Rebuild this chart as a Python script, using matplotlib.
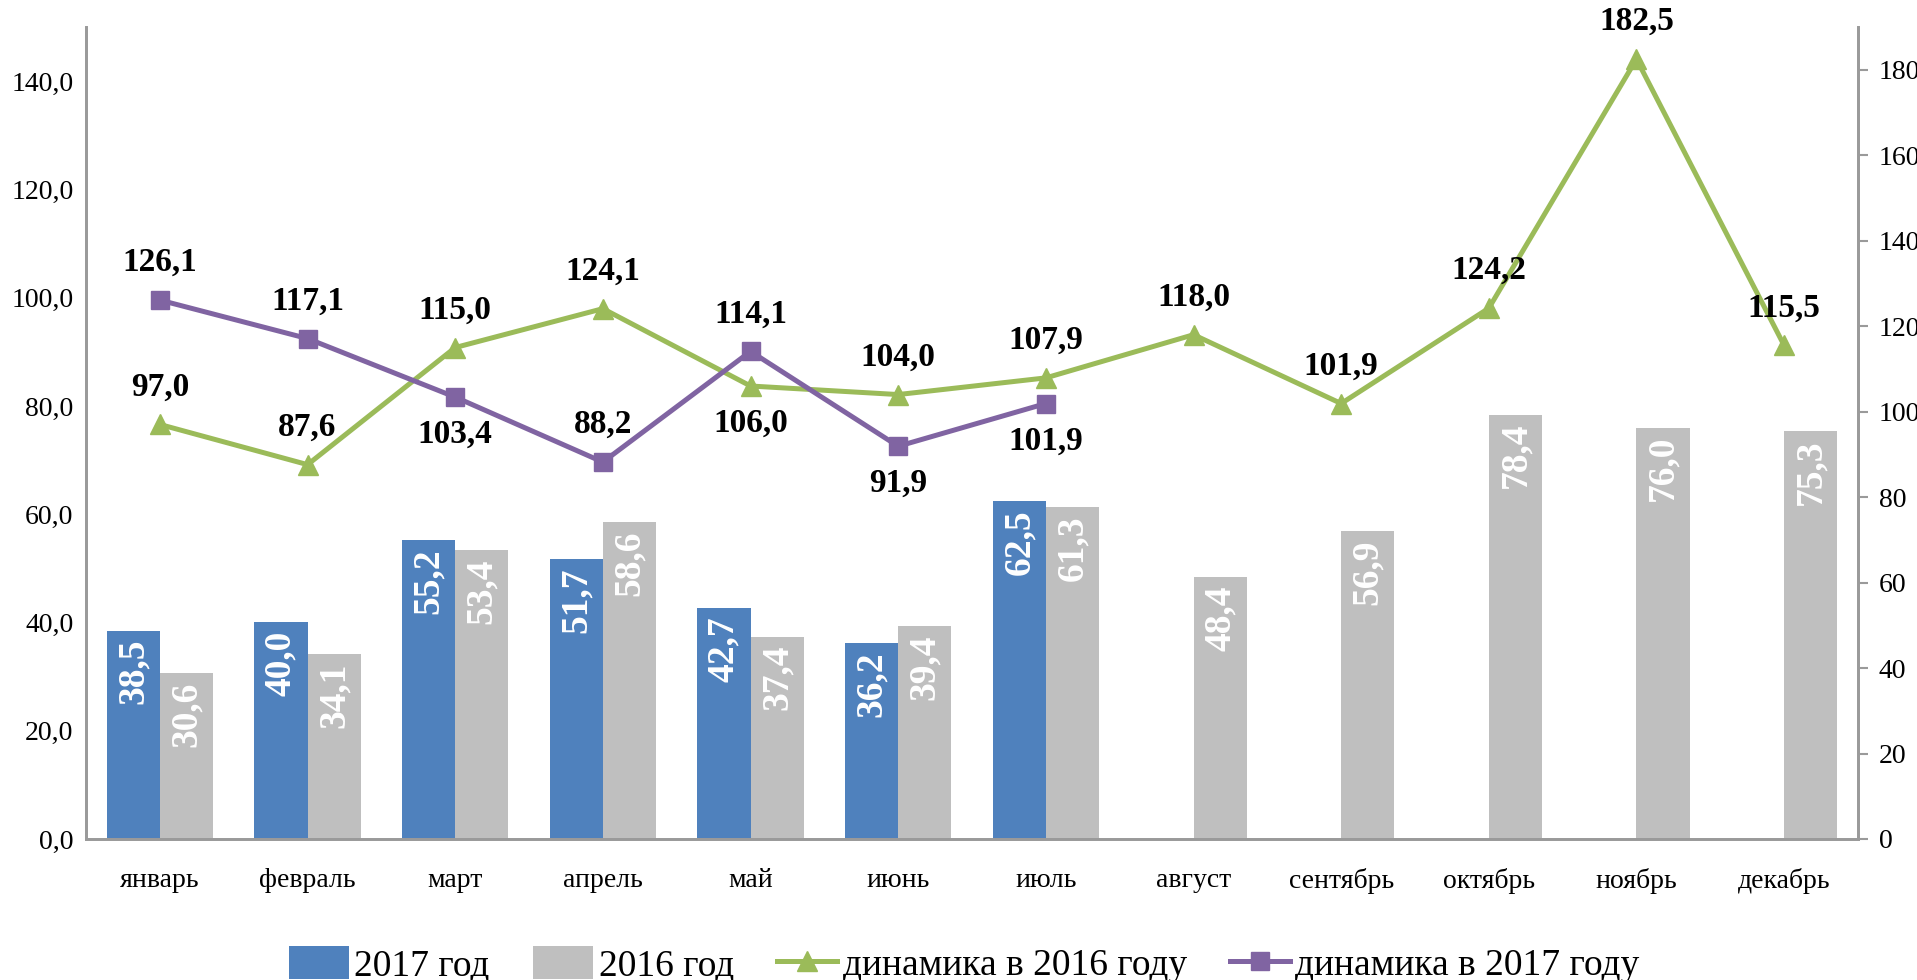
import matplotlib
matplotlib.use('Agg')
import matplotlib.pyplot as plt
from matplotlib.ticker import FuncFormatter, MultipleLocator

months = ['январь', 'февраль', 'март', 'апрель', 'май', 'июнь',
          'июль', 'август', 'сентябрь', 'октябрь', 'ноябрь', 'декабрь']
bars_2017 = [38.5, 40.0, 55.2, 51.7, 42.7, 36.2, 62.5]
bars_2016 = [30.6, 34.1, 53.4, 58.6, 37.4, 39.4, 61.3, 48.4, 56.9, 78.4, 76.0, 75.3]
dyn_2016 = [97.0, 87.6, 115.0, 124.1, 106.0, 104.0, 107.9, 118.0, 101.9, 124.2, 182.5, 115.5]
dyn_2017 = [126.1, 117.1, 103.4, 88.2, 114.1, 91.9, 101.9]
# label above (+1) or below (-1) the point
pos_2016 = [1, 1, 1, 1, -1, 1, 1, 1, 1, 1, 1, 1]
pos_2017 = [1, 1, -1, 1, 1, -1, -1]

blue = '#4F81BD'
grey = '#BFBFBF'
green = '#9BBB59'
purple = '#8064A2'
axis_grey = '#9A9A9A'
serif = 'Liberation Serif'

plt.rcParams['font.family'] = serif

fig = plt.figure(figsize=(19.17, 9.8), dpi=100, facecolor='white')
ax = fig.add_axes([0.0449, 0.1439, 0.9243, 0.8285])
ax2 = ax.twinx()

w = 0.36
x_all = list(range(len(months)))
x17 = [i - w / 2 for i in range(len(bars_2017))]
x16 = [i + w / 2 for i in x_all]

b17 = ax.bar(x17, bars_2017, width=w, color=blue, label='2017 год', zorder=2)
b16 = ax.bar(x16, bars_2016, width=w, color=grey, label='2016 год', zorder=2)

for xs, vals in ((x17, bars_2017), (x16, bars_2016)):
    for xv, v in zip(xs, vals):
        ax.annotate(f'{v:.1f}'.replace('.', ','), (xv, v), xytext=(0, -6),
                    textcoords='offset points', rotation=90, ha='center', va='top',
                    color='white', fontsize=27, fontweight='bold', zorder=3)

ax.set_xlim(-0.5, 11.5)
ax.set_ylim(0, 150)
ax.yaxis.set_major_locator(MultipleLocator(20))
ax.yaxis.set_major_formatter(FuncFormatter(lambda v, p: f'{v:.1f}'.replace('.', ',')))
ax.set_xticks(x_all)
ax.set_xticklabels(months)
ax.tick_params(axis='x', length=0, pad=21, labelsize=20)
ax.tick_params(axis='y', length=0, pad=9, labelsize=20)

l16, = ax2.plot(x_all, dyn_2016, color=green, linewidth=3.6, marker='^',
                markersize=15, label='динамика в 2016 году', zorder=4)
l17, = ax2.plot(list(range(len(dyn_2017))), dyn_2017, color=purple, linewidth=3.6,
                marker='s', markersize=13, label='динамика в 2017 году', zorder=4)

for xs, vals, pos in ((x_all, dyn_2016, pos_2016), (range(len(dyn_2017)), dyn_2017, pos_2017)):
    for xv, v, p in zip(xs, vals, pos):
        ax2.annotate(f'{v:.1f}'.replace('.', ','), (xv, v), xytext=(0, 27 * p),
                     textcoords='offset points', ha='center', va='center',
                     fontsize=24, fontweight='bold', color='black', zorder=5)

ax2.set_ylim(0, 190)
ax2.yaxis.set_major_locator(MultipleLocator(20))
ax2.tick_params(axis='y', length=7, width=1.5, color=axis_grey, pad=8, labelsize=20)

for a in (ax, ax2):
    a.spines['top'].set_visible(False)
    for s in ('left', 'right', 'bottom'):
        a.spines[s].set_color(axis_grey)
        a.spines[s].set_linewidth(2)
ax.set_zorder(ax2.get_zorder() - 1)
ax2.patch.set_visible(False)

fig.legend(handles=[b17, b16, l16, l17], loc='lower center', ncol=4,
           bbox_to_anchor=(0.503, -0.038), frameon=False, fontsize=27,
           handlelength=1.6, handleheight=1.0, handletextpad=0.15, columnspacing=1.15)

fig.savefig('out.png', dpi=100, facecolor='white')
